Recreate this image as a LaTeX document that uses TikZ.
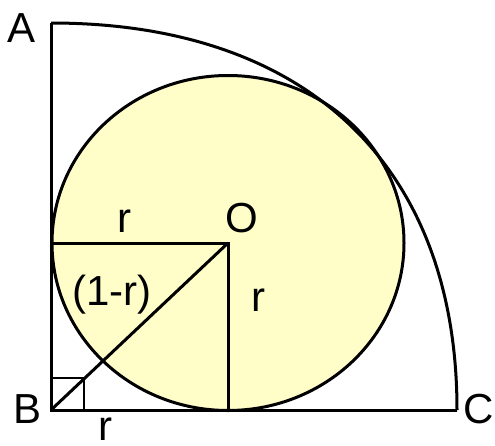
\documentclass[tikz,border=0pt]{standalone}
\usepackage{fontspec}
\setmainfont{Liberation Sans}
\definecolor{fillyel}{RGB}{255,253,200}
\begin{document}
\begin{tikzpicture}[x=1pt,y=-1pt,
  edge/.style={line width=3pt,line join=miter},
  lbl/.style={inner sep=0pt,font=\fontsize{42}{44}\selectfont}]
\useasboundingbox (0,0) rectangle (495,445);
\coordinate (B) at (51,410);
\coordinate (A) at (51,23);
\coordinate (C) at (457,410);
\coordinate (O) at (228,243);
\coordinate (L) at (51,243);
\coordinate (D) at (228,410);
\fill[fillyel] (O) ellipse [x radius=176, y radius=167.5];
\draw[edge] (C) -- (B) -- (A);
\draw[edge] (A) .. controls (307,23) and (457,166) .. (C);
\draw[edge] (O) ellipse [x radius=176, y radius=167.5];
\draw[edge] (L) -- (O) -- (D);
\draw[edge] (B) -- (O);
\draw[line width=2.8pt] (51,378) -- (84,378) -- (84,410);
\node[lbl] (la) at (22,28) {A};
\node[lbl] (lb) at (28,409) {B};
\node[lbl] (lc) at (479,409) {C};
\node[lbl] (lo) at (242,218) {O};
\node[lbl] (r1) at (124,221) {r};
\node[lbl] (r2) at (258,300) {r};
\node[lbl] (r3) at (105,429) {r};
\node[lbl] (lr) at (112,295) {(1-r)};
\end{tikzpicture}
\end{document}
